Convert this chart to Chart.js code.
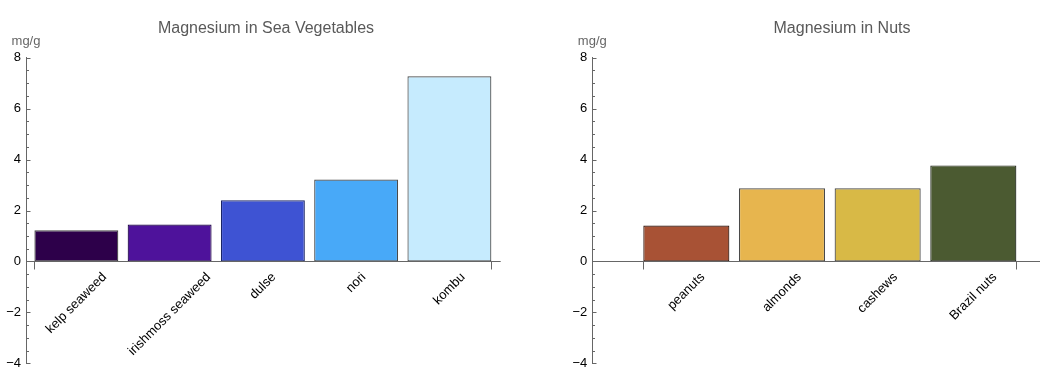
<!DOCTYPE html>
<html>
<head>
<meta charset="utf-8">
<script src="https://cdn.jsdelivr.net/npm/chart.js@4.4.1/dist/chart.umd.min.js"></script>
<style>
  html, body { margin: 0; padding: 0; background: #fff; }
  #cntr { position: relative; width: 1040px; height: 387px; }
  .grafica { position: absolute; top: 0; width: 520px; height: 387px; }
</style>
</head>
<body>
<div id="cntr">
  <div class="grafica" style="left:0"><canvas id="chartSea" width="520" height="387"></canvas></div>
  <div class="grafica" style="left:520px"><canvas id="chartNuts" width="520" height="387"></canvas></div>
</div>
<script>
// datos
const seaCategories = ['kelp seaweed', 'irishmoss seaweed', 'dulse', 'nori', 'kombu'];
const seaValues = [1.22, 1.45, 2.40, 3.22, 7.27];
const nutCategories = ['peanuts', 'almonds', 'cashews', 'Brazil nuts'];
const nutValues = [1.41, 2.87, 2.87, 3.77];
const yTicks = [-4, -2, 0, 2, 4, 6, 8];
const unitLabel = 'mg/g';

// colores
const seaColors = ['#2d004a', '#4e129b', '#3e53d3', '#48a9f8', '#c6ebfe'];
const seaBorders = ['#444444', '#22084a', '#1a2566', '#4a4a4a', '#4a4a4a'];
const nutColors = ['#a85235', '#e7b54e', '#d8b946', '#4b5a31'];
const nutBorders = ['#33170e', '#4a4a4a', '#4a4a4a', '#20261a'];

const FONT = '"Liberation Sans", Arial, sans-serif';
const AXIS = '#666666';

// ejes al estilo Mathematica: ticks hacia dentro, eje x en cero, etiquetas giradas
const ejes = {
  id: 'ejes',
  afterDatasetsDraw(chart, args, opts) {
    const { ctx, chartArea } = chart;
    const y = chart.scales.y;
    const y0 = Math.round(y.getPixelForValue(0)) + 0.5;
    const bars = chart.getDatasetMeta(0).data;
    const left = Math.round(chartArea.left) + 0.5;

    ctx.save();
    ctx.strokeStyle = AXIS;
    ctx.lineWidth = 1;

    // eje x
    ctx.beginPath();
    ctx.moveTo(chartArea.left, y0);
    ctx.lineTo(chartArea.right, y0);
    ctx.stroke();

    // ticks del eje x en los extremos
    const first = bars[0];
    const last = bars[bars.length - 1];
    [first.x - first.width / 2, last.x + last.width / 2].forEach(px => {
      const xx = Math.round(px) + 0.5;
      ctx.beginPath();
      ctx.moveTo(xx, y0);
      ctx.lineTo(xx, y0 + 8);
      ctx.stroke();
    });

    // ticks del eje y (mayores y menores)
    for (let k = y.min * 2; k <= y.max * 2; k++) {
      const v = k / 2;
      const py = Math.round(y.getPixelForValue(v)) + 0.5;
      const len = (v % 2 === 0) ? 4 : 2.5;
      ctx.beginPath();
      ctx.moveTo(left, py);
      ctx.lineTo(left + len, py);
      ctx.stroke();
    }

    // etiquetas de categorias
    ctx.fillStyle = '#000';
    ctx.font = '13px ' + FONT;
    ctx.textAlign = 'center';
    ctx.textBaseline = 'middle';
    opts.labels.forEach((lab, i) => {
      const w = ctx.measureText(lab).width;
      const cx = bars[i].x;
      const cy = y0 + 9 + (w + 13) * Math.SQRT1_2 / 2;
      ctx.save();
      ctx.translate(cx, cy);
      ctx.rotate(-Math.PI / 4);
      ctx.fillText(lab, 0, 0);
      ctx.restore();
    });

    // titulo y unidades
    ctx.fillStyle = '#595959';
    ctx.font = '16px ' + FONT;
    ctx.textBaseline = 'alphabetic';
    ctx.fillText(opts.title, opts.titleX, 32.5);
    ctx.fillStyle = '#666';
    ctx.font = '13px ' + FONT;
    ctx.fillText(unitLabel, chartArea.left, 44.5);
    ctx.restore();
  }
};

function crear_grafica(id, categorias, valores, colores, bordes, cfg) {
  const ctx = document.getElementById(id);
  return new Chart(ctx, {
    type: 'bar',
    data: {
      datasets: [{
        data: categorias.map((c, i) => ({ x: i + 1, y: valores[i] })),
        backgroundColor: colores,
        borderColor: bordes,
        borderWidth: 1.2,
        borderSkipped: false,
        barPercentage: 0.9,
        categoryPercentage: 1
      }]
    },
    options: {
      responsive: false,
      animation: false,
      devicePixelRatio: 1,
      layout: { padding: { left: 0, right: cfg.padRight, top: 57.7, bottom: 23.7 } },
      plugins: {
        legend: { display: false },
        tooltip: { enabled: false },
        ejes: { labels: categorias, title: cfg.title, titleX: cfg.titleX }
      },
      scales: {
        x: {
          type: 'linear',
          display: false,
          offset: false,
          min: cfg.xMin,
          max: cfg.xMax,
          afterBuildTicks: s => { s.ticks = categorias.map((c, i) => ({ value: i + 1 })); }
        },
        y: {
          min: -4,
          max: 8,
          afterFit: s => { s.width = cfg.yWidth; },
          afterBuildTicks: s => { s.ticks = yTicks.map(v => ({ value: v })); },
          grid: { display: false, drawTicks: false },
          border: { display: true, color: AXIS, width: 1 },
          ticks: {
            padding: 5,
            color: '#000',
            font: { family: FONT, size: 13 },
            callback: v => (v < 0 ? '\u2212' + Math.abs(v) : String(v))
          }
        }
      }
    },
    plugins: [ejes]
  });
}

crear_grafica('chartSea', seaCategories, seaValues, seaColors, seaBorders, {
  title: 'Magnesium in Sea Vegetables', titleX: 266,
  xMin: 0.46, xMax: 5.55, yWidth: 26, padRight: 19.3
});

crear_grafica('chartNuts', nutCategories, nutValues, nutColors, nutBorders, {
  title: 'Magnesium in Nuts', titleX: 322,
  xMin: 0.017, xMax: 4.697, yWidth: 72.3, padRight: 0
});
</script>
</body>
</html>
